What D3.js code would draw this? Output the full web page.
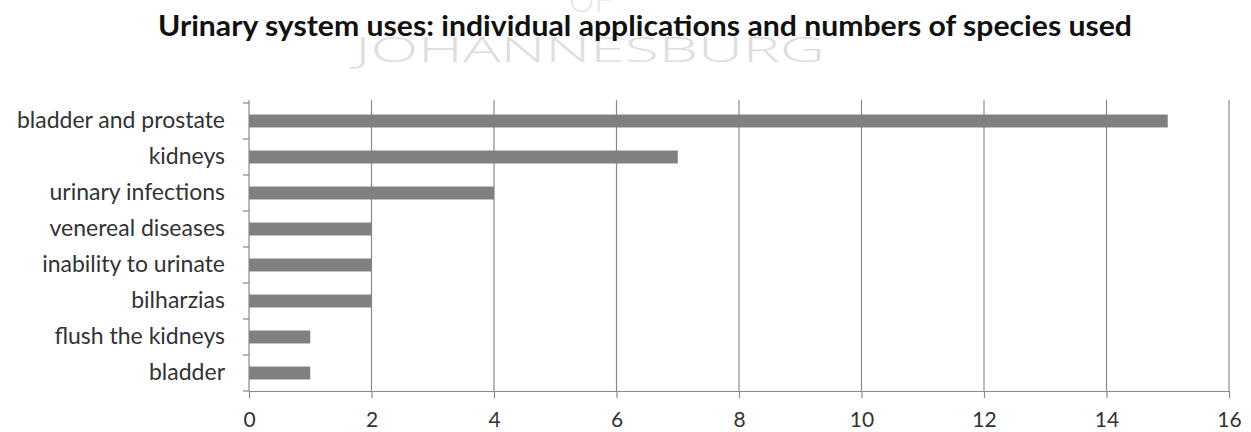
<!DOCTYPE html>
<html><head><meta charset="utf-8">
<script src="https://cdn.jsdelivr.net/npm/d3@7"></script>
<style>body{margin:0;background:#fff;} text{font-family:Lato, "Open Sans", sans-serif;}</style>
</head><body>
<svg id="c" width="1251" height="432"></svg>
<script>
const categories = ["bladder and prostate","kidneys","urinary infections","venereal diseases","inability to urinate","bilharzias","flush the kidneys","bladder"];
const values = [15,7,4,2,2,2,1,1];
const xTicks = [0,2,4,6,8,10,12,14,16];
const title = "Urinary system uses: individual applications and numbers of species used";

(function(){
const svg = d3.select("#c");
const mLeft = 249, mRight = 1229, mTop = 103, mBottom = 391;
const x = d3.scaleLinear().domain([0,16]).range([mLeft,mRight]);
const y = d3.scaleBand().domain(categories).range([mTop,mBottom]).paddingInner(0.64).paddingOuter(0.32);

// watermark
svg.append("text").attr("x",590).attr("y",12).attr("text-anchor","middle")
  .attr("font-size",34).attr("font-weight",300).attr("fill","#e6e6e6")
  .style("font-family","'Open Sans', sans-serif").text("OF");
svg.append("text").attr("x",355).attr("y",62)
  .attr("font-size",34).attr("font-weight",300).attr("fill","#dedede")
  .style("font-family","'Open Sans', sans-serif")
  .attr("textLength",470).attr("lengthAdjust","spacingAndGlyphs").text("JOHANNESBURG");

// title
svg.append("text").attr("x",645).attr("y",36).attr("text-anchor","middle")
  .attr("font-size",29).attr("font-weight","bold").attr("fill","#111")
  .attr("textLength",974).attr("lengthAdjust","spacingAndGlyphs").text(title);

// gridlines
svg.append("g").selectAll("line").data(xTicks.slice(1)).join("line")
  .attr("x1",d=>x(d)).attr("x2",d=>x(d)).attr("y1",mTop-3).attr("y2",mBottom)
  .attr("stroke","#8a8a8a").attr("stroke-width",1.2);

// bars
svg.append("g").selectAll("rect").data(values).join("rect")
  .attr("x",x(0)).attr("y",(d,i)=>y(categories[i]))
  .attr("width",d=>x(d)-x(0)).attr("height",y.bandwidth())
  .attr("fill","#808080");

// x axis
const xa = svg.append("g").attr("transform",`translate(0,${mBottom})`)
  .call(d3.axisBottom(x).tickValues(xTicks).tickSize(7).tickPadding(14).tickSizeOuter(0));
xa.select(".domain").attr("stroke","#8a8a8a").attr("stroke-width",1.2);
xa.selectAll(".tick line").attr("stroke","#8a8a8a").attr("stroke-width",1.2);
xa.selectAll("text").attr("font-size",21).attr("fill","#333").style("font-family","Lato, sans-serif");

// y axis
const ya = svg.append("g").attr("transform",`translate(${mLeft},0)`)
  .call(d3.axisLeft(y).tickSize(0).tickPadding(24));
ya.select(".domain").attr("stroke","#8a8a8a").attr("stroke-width",1.2).attr("d",`M0,${mTop-3}V${mBottom}`);
ya.selectAll("text").attr("font-size",23).attr("fill","#333").style("font-family","Lato, sans-serif");
const bounds = d3.range(categories.length+1).map(i=>mTop+i*y.step());
svg.append("g").selectAll("line").data(bounds).join("line")
  .attr("x1",mLeft-6).attr("x2",mLeft).attr("y1",d=>d).attr("y2",d=>d)
  .attr("stroke","#8a8a8a").attr("stroke-width",1.2);
})();
</script>
</body></html>
